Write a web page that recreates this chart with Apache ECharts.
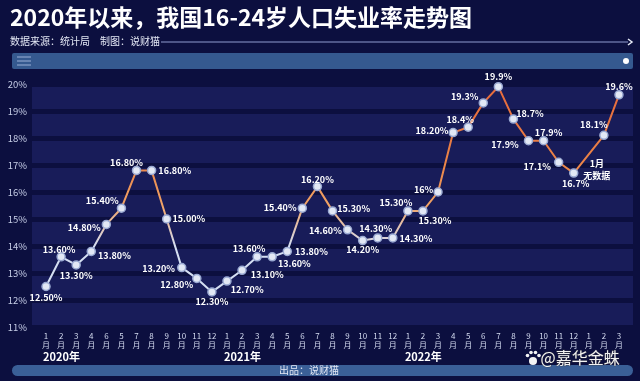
<!DOCTYPE html>
<html><head><meta charset="utf-8">
<script src="https://cdn.jsdelivr.net/npm/echarts@6/dist/echarts.min.js"></script>
<style>html,body{margin:0;padding:0;background:#0c0f3f;}#c{width:640px;height:381px;}</style>
</head><body><div id="c"></div>
<script>
// ---------- data ----------
const titleText = '2020年以来，我国16-24岁人口失业率走势图';
const subtitleText = '数据来源：统计局　制图：说财猫';
const footerText = '出品：说财猫';
const watermarkText = '@嘉华金蛛';
const noteText = '1月\n无数据';

const yearNames = ['2020年', '2021年', '2022年', ''];
const yearKeys = ['2020', '2021', '2022', '2023'];
const ticks2020 = ['1','2','3','4','6','5','7','8','9','10','11','12'];
const ticks2021 = ['1','2','3','4','5','6','7','8','9','10','11','12'];
const ticks2022 = ['1','2','3','4','5','6','7','8','9','10','11','12'];
const ticks2023 = ['1','2','3'];

const rate2020 = [12.5, 13.6, 13.3, 13.8, 14.8, 15.4, 16.8, 16.8, 15.0, 13.2, 12.8, 12.3];
const rate2021 = [12.7, 13.1, 13.6, 13.6, 13.8, 15.4, 16.2, 15.3, 14.6, 14.2, 14.3, 14.3];
const rate2022 = [15.3, 15.3, 16.0, 18.2, 18.4, 19.3, 19.9, 18.7, 17.9, 17.9, 17.1, 16.7];
const rate2023 = [null, 18.1, 19.6];

const labels2020 = ['12.50%','13.60%','13.30%','13.80%','14.80%','15.40%','16.80%','16.80%','15.00%','13.20%','12.80%','12.30%'];
const labels2021 = ['12.70%','13.10%','13.60%','13.60%','13.80%','15.40%','16.20%','15.30%','14.60%','14.20%','14.30%','14.30%'];
const labels2022 = ['15.30%','15.30%','16%','18.20%','18.4%','19.3%','19.9%','18.7%','17.9%','17.9%','17.1%','16.7%'];
const labels2023 = ['', '18.1%', '19.6%'];

const yMin = 11, yMax = 20, yStep = 1;

// ---------- label placement (style only) ----------
const labelPlace = [
  ['bottom',0,-3],['top',-2,7],['bottom',0,-4],['right',-3,4],['left',4,3],['left',7,-8],
  ['top',-10,6],['right',-3,0],['right',-4,0],['left',3,1],['left',6,6],['bottom',0,-5],
  ['right',-6,8],['right',-1,4],['top',-8,6],['right',-4,7],['right',-2,0],['left',4,-1],
  ['top',0,7],['right',-5,-2],['left',4,1],['bottom',0,-5],['top',-2,5],['right',-3,1],
  ['top',-12,6],['bottom',12,-5],['left',5,-2],['left',5,-2],['top',-8,7],['left',5,-6],
  ['top',0,4],['right',-7,-6],['left',0,4],['top',5,6],['left',2,4],['bottom',2,-4],
  null,['top',-10,4],['top',0,6]
];

// ---------- build ----------
const tickGroups = [ticks2020, ticks2021, ticks2022, ticks2023];
const categories = [], monthTicks = [], yearAt = [];
tickGroups.forEach((g, gi) => g.forEach((m, i) => {
  categories.push(yearKeys[gi] + '-' + (i + 1));
  monthTicks.push(m);
  yearAt.push(i === 0 ? yearNames[gi] : '');
}));
const rates = [].concat(rate2020, rate2021, rate2022, rate2023);
const labelTexts = [].concat(labels2020, labels2021, labels2022, labels2023);
const pointData = rates.map((v, i) => {
  if (v == null) return null;
  const p = labelPlace[i];
  return { value: v, label: { position: p[0], offset: [p[1], p[2]] } };
});
const gapIdx = rates.indexOf(null);
const noteValue = (rates[gapIdx - 1] + rates[gapIdx + 1]) / 2;

const cjk = '"Noto Sans CJK SC","Noto Sans",sans-serif';

const chart = echarts.init(document.getElementById('c'));
chart.setOption({
  animation: false,
  backgroundColor: '#0c0f3f',
  grid: [
    { left: 32, right: 7, top: 84, bottom: 54, show: true, backgroundColor: '#181c59', borderWidth: 0 },
    { left: 38.5, right: 13.5, top: 84, bottom: 54 }
  ],
  xAxis: [
    { gridIndex: 0, type: 'value', show: false, min: 0, max: 1 },
    { gridIndex: 1, type: 'category', data: categories, position: 'bottom',
      axisLine: { show: false }, axisTick: { show: false },
      axisLabel: { interval: 0, margin: 4, color: '#d3daef', fontSize: 8, lineHeight: 9, fontFamily: cjk,
        formatter: (v, i) => monthTicks[i] + '\n月' } },
    { gridIndex: 1, type: 'category', data: categories, position: 'bottom',
      axisLine: { show: false }, axisTick: { show: false },
      axisLabel: { interval: 0, margin: 24, align: 'left', color: '#ffffff', fontSize: 11, fontWeight: 'bold',
        fontFamily: cjk, padding: [0, 0, 0, -3], formatter: (v, i) => yearAt[i] } }
  ],
  yAxis: [
    { gridIndex: 0, type: 'value', min: yMin, max: yMax, interval: yStep,
      axisLine: { show: false }, axisTick: { show: false },
      axisLabel: { formatter: '{value}%', color: '#c6cde6', fontSize: 9.5, margin: 5, fontFamily: cjk },
      splitLine: { show: true, lineStyle: { color: '#0c0f3f', width: 5 } } },
    { gridIndex: 1, type: 'value', min: yMin, max: yMax, interval: yStep, show: false }
  ],
  visualMap: {
    type: 'continuous', show: false, seriesIndex: 0, dimension: 1, min: 14, max: 20,
    inRange: { color: ['#d4def2', '#f0a366', '#eb8548', '#e87540', '#e66a3c'] }
  },
  series: [
    { type: 'line', xAxisIndex: 1, yAxisIndex: 1, data: rates, connectNulls: true,
      showSymbol: false, lineStyle: { width: 2 }, z: 3 },
    { type: 'line', xAxisIndex: 1, yAxisIndex: 1, data: pointData, connectNulls: true,
      lineStyle: { width: 0, opacity: 0 }, symbol: 'circle', symbolSize: 8, z: 4,
      itemStyle: { color: '#e2e8f5', borderColor: '#9aa9d2', borderWidth: 1.5 },
      label: { show: true, color: '#ffffff', fontSize: 9, fontWeight: 'bold', fontFamily: cjk, distance: 5,
        formatter: p => labelTexts[p.dataIndex] },
      markPoint: {
        symbol: 'circle', symbolSize: 1, itemStyle: { color: 'rgba(0,0,0,0)' },
        label: { show: true, position: 'bottom', offset: [8, -2], color: '#ffffff', fontSize: 9,
          fontWeight: 'bold', lineHeight: 12, fontFamily: cjk, formatter: noteText },
        data: [{ coord: [categories[gapIdx], noteValue] }]
      } }
  ],
  graphic: [
    { type: 'text', left: 10, top: 6, style: { text: titleText, fill: '#ffffff', font: 'bold 23px "Noto Sans CJK SC"' } },
    { type: 'text', left: 10, top: 36, style: { text: subtitleText, fill: '#e4e8f5', font: '10px "Noto Sans CJK SC"' } },
    { type: 'line', shape: { x1: 161, y1: 42, x2: 628, y2: 42 }, style: { stroke: '#8f9cd0', lineWidth: 1 } },
    { type: 'polyline', shape: { points: [[628, 39], [632, 42], [628, 45]] }, style: { stroke: '#e6eaf6', lineWidth: 1.5, fill: null } },
    { type: 'rect', shape: { x: 12, y: 53, width: 621, height: 16, r: 2 }, style: { fill: '#35598f' } },
    { type: 'line', shape: { x1: 17, y1: 57, x2: 31, y2: 57 }, style: { stroke: '#9bb0d6', lineWidth: 1 } },
    { type: 'line', shape: { x1: 17, y1: 61, x2: 31, y2: 61 }, style: { stroke: '#9bb0d6', lineWidth: 1 } },
    { type: 'line', shape: { x1: 17, y1: 65, x2: 31, y2: 65 }, style: { stroke: '#9bb0d6', lineWidth: 1 } },
    { type: 'circle', shape: { cx: 626, cy: 61, r: 3 }, style: { fill: '#ffffff' } },
    { type: 'rect', shape: { x: 12, y: 365, width: 621, height: 11, r: 5.5 }, style: { fill: '#3a5f97' } },
    { type: 'text', left: 279, top: 365, style: { text: footerText, fill: '#e3e8f5', font: '10px "Noto Sans CJK SC"' } },
    { type: 'circle', shape: { cx: 533, cy: 361, r: 4 }, style: { fill: '#f4f4f4' } },
    { type: 'circle', shape: { cx: 527.5, cy: 355.5, r: 1.8 }, style: { fill: '#f4f4f4' } },
    { type: 'circle', shape: { cx: 531, cy: 352.5, r: 1.8 }, style: { fill: '#f4f4f4' } },
    { type: 'circle', shape: { cx: 535.5, cy: 352.5, r: 1.8 }, style: { fill: '#f4f4f4' } },
    { type: 'circle', shape: { cx: 539, cy: 355.5, r: 1.8 }, style: { fill: '#f4f4f4' } },
    { type: 'text', left: 540, top: 349, style: { text: watermarkText, fill: '#f2f2f2', font: '16px "Noto Sans CJK SC"',
      stroke: 'rgba(60,60,60,0.6)', lineWidth: 1 } }
  ]
});
</script></body></html>
